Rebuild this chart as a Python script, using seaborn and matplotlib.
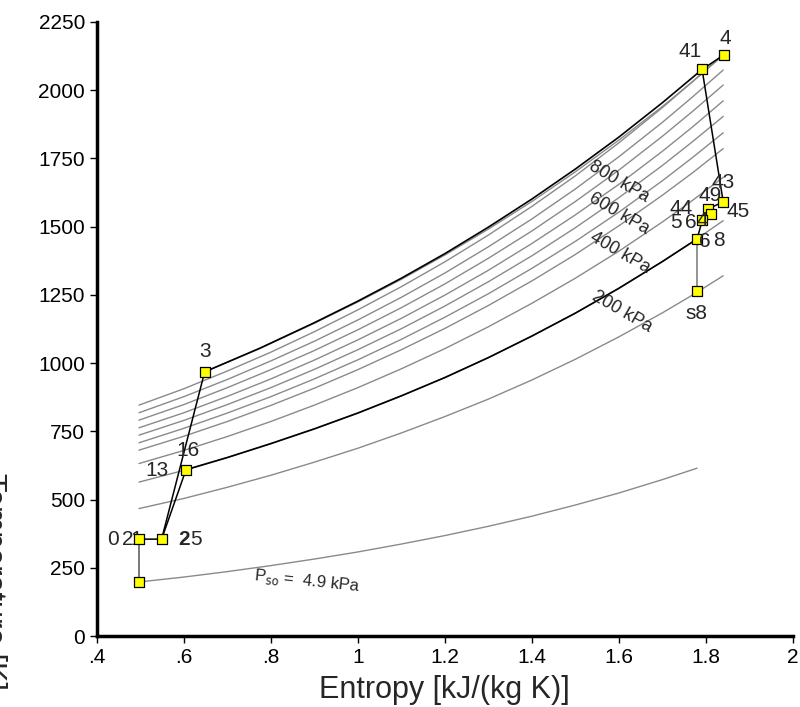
import numpy as np
import pandas as pd
import seaborn as sns
import matplotlib.pyplot as plt

# isobars: entropy points and temperatures
s_grid = [0.497, 0.6, 0.7, 0.8, 0.9, 1.0, 1.1, 1.2, 1.3, 1.4, 1.5, 1.6, 1.7, 1.77, 1.84]
iso_names = ['a', 'b', 'c', 'd', 'e', 'f', '800', '600', '400', '200']
iso_T = [
    [846, 906, 971, 1040, 1115, 1195, 1280, 1371, 1469, 1574, 1686, 1807, 1936, 2032, 2132],
    [818, 877, 940, 1008, 1080, 1158, 1241, 1330, 1426, 1528, 1638, 1756, 1882, 1976, 2074],
    [791, 848, 910, 976, 1046, 1122, 1203, 1290, 1384, 1484, 1592, 1707, 1831, 1923, 2019],
    [763, 818, 878, 942, 1011, 1085, 1164, 1249, 1340, 1438, 1543, 1655, 1776, 1866, 1961],
    [736, 790, 848, 910, 977, 1049, 1126, 1209, 1298, 1393, 1496, 1606, 1724, 1812, 1904],
    [708, 761, 817, 877, 942, 1012, 1087, 1168, 1254, 1347, 1446, 1553, 1668, 1754, 1844],
    [681, 732, 786, 845, 908, 976, 1049, 1127, 1211, 1301, 1398, 1503, 1615, 1698, 1786],
    [632, 680, 731, 786, 846, 910, 979, 1053, 1133, 1219, 1311, 1410, 1517, 1597, 1681],
    [564, 607, 654, 705, 759, 817, 880, 947, 1020, 1099, 1183, 1274, 1372, 1445, 1522],
    [467, 504, 545, 589, 637, 688, 744, 804, 868, 938, 1014, 1096, 1184, 1250, 1320],
]
# low pressure isobar (4.9 kPa)
s_low = [0.497, 0.6, 0.7, 0.8, 0.9, 1.0, 1.1, 1.2, 1.3, 1.4, 1.5, 1.6, 1.7, 1.78]
T_low = [198, 216, 236, 258, 282, 308, 337, 368, 402, 439, 480, 524, 573, 615]
# isobar through 3 and 4
s_top = [0.648, 0.774, 0.9, 1.0, 1.1, 1.2, 1.3, 1.4, 1.5, 1.6, 1.7, 1.77, 1.841]
T_top = [968, 1053, 1146, 1224, 1307, 1396, 1491, 1592, 1701, 1817, 1940, 2032, 2129]

# process curves
s_3_41 = [0.648, 0.774, 0.9, 1.0, 1.1, 1.2, 1.3, 1.4, 1.5, 1.6, 1.7, 1.7915]
T_3_41 = [968, 1054, 1148, 1227, 1311, 1401, 1498, 1601, 1711, 1828, 1954, 2076]
s_16_6 = [0.6046, 0.7, 0.8, 0.9, 1.0, 1.1, 1.2, 1.3, 1.4, 1.5, 1.6, 1.7, 1.78]
T_16_6 = [609, 654, 705, 759, 817, 880, 947, 1020, 1099, 1183, 1274, 1372, 1455]

# state points
pt_names = ['1', '21', '25', '16', '3', '41', '4', '43', '49', '45', '44', '6', 's8']
pt_s = [0.497, 0.497, 0.549, 0.605, 0.648, 1.7915, 1.841, 1.840, 1.804, 1.813, 1.792, 1.780, 1.780]
pt_T = [198, 355, 355, 609, 968, 2076, 2129, 1591, 1564, 1545, 1524, 1455, 1265]

# point labels (text, s, T)
lab_txt = ['4', '41', '43', '49', '45', '44', '5', '6', '4', '6', '8', 's8', '3', '16', '13', '0', '2', '5']
lab_s = [1.846, 1.763, 1.839, 1.809, 1.874, 1.743, 1.731, 1.766, 1.791, 1.798, 1.830, 1.779, 0.648, 0.609, 0.538, 0.438, 0.472, 0.627]
lab_T = [2191, 2143, 1660, 1616, 1557, 1568, 1517, 1517, 1524, 1447, 1451, 1183, 1041, 678, 608, 355, 355, 355]

x_ticks = [0.4, 0.6, 0.8, 1.0, 1.2, 1.4, 1.6, 1.8, 2.0]
x_ticklabels = ['.4', '.6', '.8', '1', '1.2', '1.4', '1.6', '1.8', '2']
y_ticks = [0, 250, 500, 750, 1000, 1250, 1500, 1750, 2000, 2250]

sns.set_style('ticks')
plt.rcParams['font.family'] = ['Liberation Sans', 'DejaVu Sans']

fig = plt.figure(figsize=(8, 7.07), dpi=100)
ax = fig.add_axes([0.121, 0.1004, 0.870, 0.8685])

rows = []
for name, T in zip(iso_names, iso_T):
    for s, t in zip(s_grid, T):
        rows.append((name, s, t))
for s, t in zip(s_low, T_low):
    rows.append(('low', s, t))
for s, t in zip(s_top, T_top):
    rows.append(('top', s, t))
iso = pd.DataFrame(rows, columns=['line', 's', 'T'])

gray = '#8a8a8a'
sns.lineplot(data=iso, x='s', y='T', units='line', estimator=None,
             color=gray, lw=1.0, ax=ax, legend=False)

def seg(names, color='black', lw=1.1):
    xs = [pt_s[pt_names.index(n)] for n in names]
    ys = [pt_T[pt_names.index(n)] for n in names]
    sns.lineplot(x=xs, y=ys, sort=False, estimator=None, color=color, lw=lw, ax=ax)

sns.lineplot(x=s_3_41, y=T_3_41, color='black', lw=1.2, ax=ax)
sns.lineplot(x=s_16_6, y=T_16_6, color='black', lw=1.2, ax=ax)
seg(['1', '21'], color='#555555')
seg(['21', '25', '3'])
seg(['25', '16'])
seg(['41', '4'])
seg(['41', '43', '49', '45', '44', '6'])
seg(['6', 's8'], color=gray, lw=1.3)

# "1" sits partly under its marker
ax.text(0.491, 355, '1', fontsize=15, ha='center', va='center', zorder=4)

sns.scatterplot(x=pt_s, y=pt_T, marker='s', s=42, color='#ffff00',
                edgecolor='black', linewidth=0.9, ax=ax, zorder=5)

for t, s, T in zip(lab_txt, lab_s, lab_T):
    ax.text(s, T, t, fontsize=15, ha='center', va='center', zorder=6)
ax.text(0.600, 355, '2', fontsize=15, ha='center', va='center', fontweight='bold')

for txt, s, T in [('800 kPa', 1.60, 1663), ('600 kPa', 1.60, 1546), ('400 kPa', 1.602, 1403), ('200 kPa', 1.607, 1187)]:
    ax.text(s, T, txt, fontsize=13, rotation=-30, ha='center', va='center')
ax.text(0.884, 202, r'P$_{\rm so}$ =  4.9 kPa', fontsize=12, rotation=-6, ha='center', va='center')

ax.set_xlim(0.4, 2.0)
ax.set_ylim(0, 2250)
ax.set_xticks(x_ticks)
ax.set_xticklabels(x_ticklabels)
ax.set_yticks(y_ticks)
ax.tick_params(labelsize=15, length=5, width=1, direction='out', colors='black')
ax.set_xlabel('Entropy [kJ/(kg K)]', fontsize=22, labelpad=6)
ax.set_ylabel('')
sns.despine(ax=ax)
for sp in ['left', 'bottom']:
    ax.spines[sp].set_linewidth(2.5)
    ax.spines[sp].set_color('black')

# y label mostly cut off at the left edge, as in the original
fig.text(0.009, 0.177, 'Temperature [K]', rotation=-90, fontsize=22,
         ha='right', va='center')

fig.savefig('out.png', dpi=100)
